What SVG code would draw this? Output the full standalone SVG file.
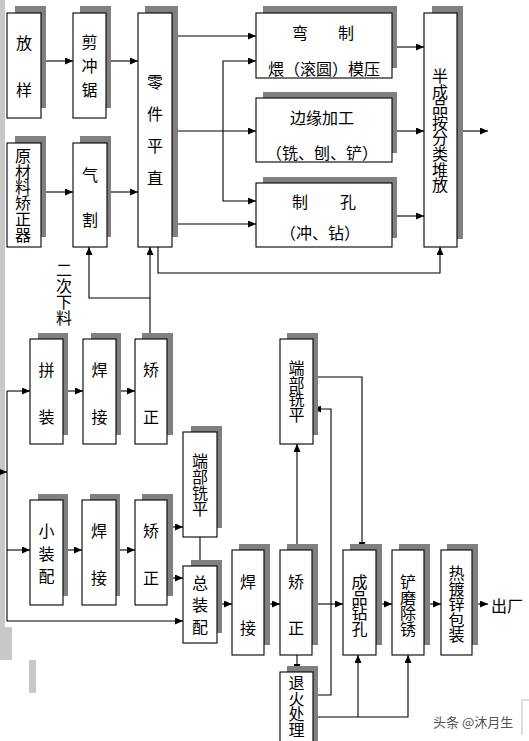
<svg xmlns="http://www.w3.org/2000/svg" width="529" height="741" viewBox="0 0 529 741">
<defs>
<style>
.b{fill:#fff;stroke:#000;stroke-width:1.1}
.s{fill:#808080}
.t{font-family:"Noto Sans CJK SC","Noto Sans CJK TC",sans-serif;font-size:16px;fill:#000;text-anchor:middle;dominant-baseline:central}
.v{font-family:"Noto Sans CJK SC","Noto Sans CJK TC",sans-serif;font-size:16px;fill:#000;writing-mode:vertical-rl;text-anchor:start}
.c{fill:none;stroke:#000;stroke-width:1.1}
.g{fill:#c8c8c8}
</style>
<marker id="a" markerUnits="userSpaceOnUse" markerWidth="8" markerHeight="7" refX="8" refY="3.5" orient="auto">
<path d="M0,0 L8,3.5 L0,7 z" fill="#000"/>
</marker>
</defs>
<rect width="529" height="741" fill="#fff"/>
<g id="sidebar">
<rect class="g" x="0" y="0" width="5" height="627"/>
<rect class="g" x="0" y="627" width="12" height="33"/>
<rect class="g" x="29" y="660" width="7" height="33"/>
</g>

<g id="connectors">
<path class="c" d="M41,61 H73" marker-end="url(#a)"/>
<path class="c" d="M106,61 H138" marker-end="url(#a)"/>
<path class="c" d="M41,192 H73" marker-end="url(#a)"/>
<path class="c" d="M107,192 H138" marker-end="url(#a)"/>
<path class="c" d="M172,36 H256" marker-end="url(#a)"/>
<path class="c" d="M172,131 H256" marker-end="url(#a)"/>
<path class="c" d="M172,224 H256" marker-end="url(#a)"/>
<path class="c" d="M223,131 V61 H256" marker-end="url(#a)"/>
<path class="c" d="M223,131 V201 H256" marker-end="url(#a)"/>
<path class="c" d="M392,47 H424" marker-end="url(#a)"/>
<path class="c" d="M392,131 H424" marker-end="url(#a)"/>
<path class="c" d="M392,216 H424" marker-end="url(#a)"/>
<path class="c" d="M457,131 H488" marker-end="url(#a)"/>
<path class="c" d="M158,247 V273 H440 V247" marker-end="url(#a)"/>
<path class="c" d="M150,339 V247" marker-end="url(#a)"/>
<path class="c" d="M150,298 H89 V247" marker-end="url(#a)"/>
<path class="c" d="M7,391 H30" marker-end="url(#a)"/>
<path class="c" d="M63,391 H83" marker-end="url(#a)"/>
<path class="c" d="M116,391 H135" marker-end="url(#a)"/>
<path class="c" d="M7,391 V621 H183" marker-end="url(#a)"/>
<path class="c" d="M7,550 H30" marker-end="url(#a)"/>
<path class="c" d="M0,472 H7" marker-end="url(#a)"/>
<path class="c" d="M63,550 H82" marker-end="url(#a)"/>
<path class="c" d="M116,550 H135" marker-end="url(#a)"/>
<path class="c" d="M167,527 H183" marker-end="url(#a)"/>
<path class="c" d="M167,578 H183" marker-end="url(#a)"/>
<path class="c" d="M200,537 V566"/>
<path class="c" d="M217,604 H232" marker-end="url(#a)"/>
<path class="c" d="M264,604 H280" marker-end="url(#a)"/>
<path class="c" d="M312,604 H343" marker-end="url(#a)"/>
<path class="c" d="M376,604 H392" marker-end="url(#a)"/>
<path class="c" d="M424,604 H441" marker-end="url(#a)"/>
<path class="c" d="M472,604 H488" marker-end="url(#a)"/>
<path class="c" d="M297,550 V444" marker-end="url(#a)"/>
<path class="c" d="M313,377 H362 V550" marker-end="url(#a)"/>
<path class="c" d="M313,695 H331 V409 H313" marker-end="url(#a)"/>
<path class="c" d="M297,655 V672" marker-end="url(#a)"/>
<path class="c" d="M313,717 H408 V655" marker-end="url(#a)"/>
<path class="c" d="M358,717 V655" marker-end="url(#a)"/>
</g>

<g id="fangyang"><rect class="s" x="15" y="6" width="31" height="102"/><rect class="b" x="7" y="13" width="34" height="105"/><text class="v" x="24" y="35" letter-spacing="31">放样</text></g>
<g id="jianchongju"><rect class="s" x="80" y="6" width="31" height="102"/><rect class="b" x="73" y="13" width="33" height="105"/><text class="v" x="89.5" y="34" letter-spacing="8">剪冲锯</text></g>
<g id="lingjian"><rect class="s" x="145" y="6" width="33" height="231"/><rect class="b" x="138" y="13" width="34" height="234"/><text class="v" x="155" y="74" letter-spacing="16">零件平直</text></g>
<g id="yuancailiao"><rect class="s" x="15" y="136" width="31" height="101"/><rect class="b" x="7" y="143" width="34" height="104"/><text class="v" x="23" y="148" letter-spacing="-0.3">原材料矫正器</text></g>
<g id="qige"><rect class="s" x="80" y="136" width="31" height="101"/><rect class="b" x="73" y="143" width="34" height="104"/><text class="v" x="90" y="167" letter-spacing="29">气割</text></g>
<g id="wanzhi"><rect class="s" x="263" y="6" width="134" height="62"/><rect class="b" x="256" y="13" width="136" height="65"/><text class="t" x="300" y="32">弯</text><text class="t" x="346" y="32">制</text><text class="t" x="324" y="68">煨（滚圆）模压</text></g>
<g id="bianyuan"><rect class="s" x="263" y="92" width="134" height="61"/><rect class="b" x="256" y="98" width="136" height="64"/><text class="t" x="322" y="117">边缘加工</text><text class="t" x="322" y="152">（铣、刨、铲）</text></g>
<g id="zhikong"><rect class="s" x="263" y="177" width="134" height="61"/><rect class="b" x="256" y="183" width="136" height="64"/><text class="t" x="300" y="201">制</text><text class="t" x="348" y="201">孔</text><text class="t" x="320" y="232">（冲、钻）</text></g>
<g id="banchengpin"><rect class="s" x="432" y="6" width="31" height="233"/><rect class="b" x="424" y="13" width="33" height="234"/><text class="v" x="440" y="68" letter-spacing="-0.4">半成品按分类堆放</text></g>
<g id="ercixialiao"><text class="v" x="64" y="262" font-size="15">二次下料</text></g>
<g id="pinzhuang"><rect class="s" x="38" y="333" width="30" height="102"/><rect class="b" x="30" y="339" width="33" height="105"/><text class="v" x="46.5" y="362" letter-spacing="31">拼装</text></g>
<g id="hanjie1"><rect class="s" x="91" y="333" width="30" height="102"/><rect class="b" x="83" y="339" width="33" height="105"/><text class="v" x="99.5" y="362" letter-spacing="31">焊接</text></g>
<g id="jiaozheng1"><rect class="s" x="142" y="333" width="31" height="102"/><rect class="b" x="135" y="339" width="32" height="105"/><text class="v" x="151" y="362" letter-spacing="31">矫正</text></g>
<g id="xiaozhuangpei"><rect class="s" x="38" y="494" width="30" height="102"/><rect class="b" x="30" y="500" width="33" height="105"/><text class="v" x="46.5" y="523" letter-spacing="6.5">小装配</text></g>
<g id="hanjie2"><rect class="s" x="90" y="494" width="30" height="102"/><rect class="b" x="82" y="500" width="34" height="105"/><text class="v" x="99" y="523" letter-spacing="31">焊接</text></g>
<g id="jiaozheng2"><rect class="s" x="142" y="494" width="31" height="102"/><rect class="b" x="135" y="500" width="32" height="105"/><text class="v" x="151" y="523" letter-spacing="31">矫正</text></g>
<g id="duanbu1"><rect class="s" x="191" y="426" width="31" height="102"/><rect class="b" x="183" y="432" width="34" height="105"/><text class="v" x="200" y="453">端部铣平</text></g>
<g id="zongzhuangpei"><rect class="s" x="191" y="560" width="31" height="73"/><rect class="b" x="183" y="566" width="34" height="77"/><text class="v" x="200" y="575" letter-spacing="6">总装配</text></g>
<g id="hanjie3"><rect class="s" x="239" y="544" width="31" height="101"/><rect class="b" x="232" y="550" width="32" height="105"/><text class="v" x="248" y="574" letter-spacing="30">焊接</text></g>
<g id="jiaozheng3"><rect class="s" x="287" y="544" width="31" height="101"/><rect class="b" x="280" y="550" width="32" height="105"/><text class="v" x="296" y="574" letter-spacing="30">矫正</text></g>
<g id="chengpin"><rect class="s" x="350" y="544" width="32" height="101"/><rect class="b" x="343" y="550" width="33" height="105"/><text class="v" x="359.5" y="574" letter-spacing="-0.5">成品钻孔</text></g>
<g id="chanmo"><rect class="s" x="399" y="544" width="31" height="101"/><rect class="b" x="392" y="550" width="32" height="105"/><text class="v" x="408" y="574" letter-spacing="-0.5">铲磨除锈</text></g>
<g id="reduxin"><rect class="s" x="447" y="544" width="31" height="101"/><rect class="b" x="441" y="550" width="31" height="105"/><text class="v" x="456.5" y="565" letter-spacing="-0.4">热镀锌包装</text></g>
<g id="chuchang"><text class="t" x="507" y="605">出厂</text></g>
<g id="duanbu2"><rect class="s" x="287" y="333" width="31" height="102"/><rect class="b" x="280" y="339" width="33" height="105"/><text class="v" x="296.5" y="360" letter-spacing="-0.3">端部铣平</text></g>
<g id="tuihuo"><rect class="s" x="287" y="666" width="31" height="80"/><rect class="b" x="280" y="672" width="33" height="80"/><text class="v" x="296.5" y="675" letter-spacing="-0.5">退火处理</text></g>
<g id="watermark"><text x="433" y="727" font-family="Noto Sans CJK SC, sans-serif" font-size="13" fill="#555">头条 @沐月生</text><path d="M522,735 V700 H529" fill="none" stroke="#bbb" stroke-width="1"/></g>
</svg>
